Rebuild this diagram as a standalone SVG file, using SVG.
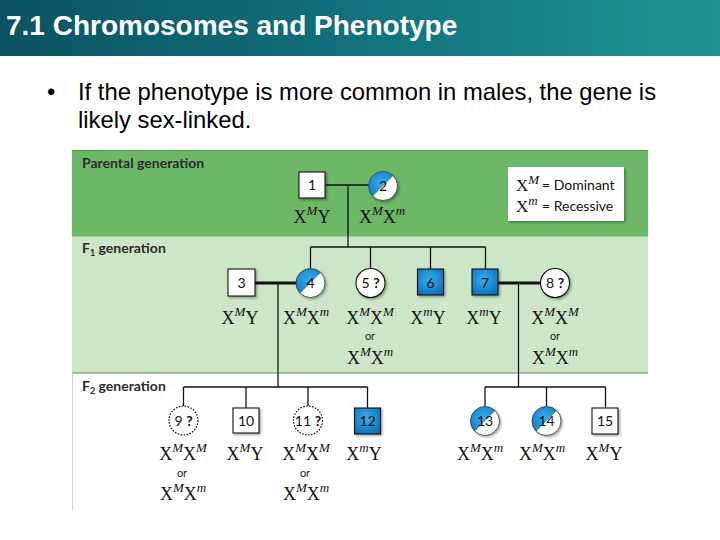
<svg xmlns="http://www.w3.org/2000/svg" xmlns:xlink="http://www.w3.org/1999/xlink" width="720" height="540" viewBox="0 0 720 540">
<style>
.title{font-family:"Liberation Sans",Arial,sans-serif;font-weight:bold;font-size:28px;fill:#ffffff}
.bullet{font-family:"Liberation Sans",Arial,sans-serif;font-size:23.8px;fill:#000000}
.sec{font-family:Lato,"Liberation Sans",sans-serif;font-weight:bold;font-size:14px;fill:#2b2b2b}
.num{font-family:Lato,"Liberation Sans",sans-serif;font-size:14px;fill:#111111;text-anchor:middle}
.geno{font-family:"Liberation Serif","Times New Roman",serif;font-size:18px;fill:#111111;text-anchor:middle}
.sup{font-style:italic;font-size:13px}
.or{font-family:Lato,"Liberation Sans",sans-serif;font-size:11px;fill:#222222;text-anchor:middle}
.leg{font-family:Lato,"Liberation Sans",sans-serif;font-size:14px;fill:#111111}
.legx{font-family:"Liberation Serif","Times New Roman",serif;font-size:17px;fill:#111111}
.thin{stroke:#111111;stroke-width:1.3;fill:none}
.thick{stroke:#111111;stroke-width:2.8;fill:none}
.sq{fill:#ffffff;stroke:#111111;stroke-width:1.1}
.sqa{fill:url(#blue);stroke:#111111;stroke-width:1.1}
.ci{fill:#ffffff;stroke:#111111;stroke-width:1.1}
.cid{fill:#ffffff;stroke:#111111;stroke-width:1.2;stroke-dasharray:1.6 1.4}
</style>
<defs>
<linearGradient id="tbar" x1="0" y1="0" x2="1" y2="0">
<stop offset="0" stop-color="#0b5262"/>
<stop offset="0.5" stop-color="#12717c"/>
<stop offset="1" stop-color="#1e9592"/>
</linearGradient>
<radialGradient id="blue" cx="0.45" cy="0.4" r="0.7">
<stop offset="0" stop-color="#38aef0"/>
<stop offset="1" stop-color="#0a6cb4"/>
</radialGradient>
<filter id="sh" x="-30%" y="-30%" width="160%" height="160%">
<feDropShadow dx="1.5" dy="1.5" stdDeviation="1.2" flood-color="#000000" flood-opacity="0.35"/>
</filter>
<clipPath id="cc"><circle cx="0" cy="0" r="14.5"/></clipPath>
<g id="half">
<circle cx="0" cy="0" r="14.5" fill="#ffffff"/>
<polygon points="-15,-15 15,-15 -15,15" fill="url(#blue)" clip-path="url(#cc)"/>
<circle cx="0" cy="0" r="14.5" fill="none" stroke="#333333" stroke-width="0.8"/>
</g>
</defs>

<!-- title bar -->
<rect x="0" y="0" width="720" height="56" fill="url(#tbar)"/>
<text class="title" x="6" y="35">7.1 Chromosomes and Phenotype</text>
<text class="bullet" x="47" y="100">•</text>
<text class="bullet" x="78" y="100">If the phenotype is more common in males, the gene is</text>
<text class="bullet" x="78" y="128">likely sex-linked.</text>

<!-- panel bands -->
<rect x="72" y="150" width="576" height="86" fill="#6cb866"/>
<line x1="72" y1="150.5" x2="648" y2="150.5" stroke="#4f9a4c" stroke-width="1"/>
<rect x="72" y="236" width="576" height="137" fill="#cde6c7"/>
<line x1="72" y1="236.5" x2="648" y2="236.5" stroke="#9fd19a" stroke-width="1"/>
<line x1="72" y1="373" x2="648" y2="373" stroke="#5a8a5a" stroke-width="1"/>
<line x1="72.5" y1="373" x2="72.5" y2="510" stroke="#c8d8e0" stroke-width="1"/>

<text class="sec" x="82" y="168">Parental generation</text>
<text class="sec" x="82" y="253">F<tspan font-size="9" dy="3">1</tspan><tspan dy="-3"> generation</tspan></text>
<text class="sec" x="82" y="391">F<tspan font-size="9" dy="3">2</tspan><tspan dy="-3"> generation</tspan></text>

<!-- legend -->
<g id="legend">
<rect x="508" y="167" width="116" height="54" fill="#ffffff" filter="url(#sh)"/>
<text class="legx" x="516" y="191">X<tspan class="sup" font-size="12" dy="-7">M</tspan></text>
<text class="leg" x="542" y="190">= Dominant</text>
<text class="legx" x="516" y="212">X<tspan class="sup" font-size="12" dy="-7">m</tspan></text>
<text class="leg" x="542" y="211">= Recessive</text>
</g>

<!-- connectors -->
<g id="connectors">
<line class="thin" x1="325" y1="185" x2="369" y2="185"/>
<line class="thin" x1="348" y1="185" x2="348" y2="247"/>
<line class="thin" x1="310.5" y1="247" x2="485.5" y2="247"/>
<line class="thin" x1="310.5" y1="247" x2="310.5" y2="268"/>
<line class="thin" x1="370.5" y1="247" x2="370.5" y2="268"/>
<line class="thin" x1="430.5" y1="247" x2="430.5" y2="269"/>
<line class="thin" x1="485.5" y1="247" x2="485.5" y2="269"/>
<line class="thick" x1="255" y1="283" x2="296" y2="283"/>
<line class="thin" x1="278" y1="283" x2="278" y2="387"/>
<line class="thin" x1="183.5" y1="387" x2="367.5" y2="387"/>
<line class="thin" x1="183.5" y1="387" x2="183.5" y2="406"/>
<line class="thin" x1="246" y1="387" x2="246" y2="408"/>
<line class="thin" x1="308" y1="387" x2="308" y2="406"/>
<line class="thin" x1="367.5" y1="387" x2="367.5" y2="408"/>
<line class="thick" x1="498" y1="283" x2="540" y2="283"/>
<line class="thin" x1="518.5" y1="283" x2="518.5" y2="387"/>
<line class="thin" x1="485" y1="387" x2="605.5" y2="387"/>
<line class="thin" x1="485" y1="387" x2="485" y2="406"/>
<line class="thin" x1="546.5" y1="387" x2="546.5" y2="406"/>
<line class="thin" x1="605.5" y1="387" x2="605.5" y2="408"/>
</g>

<!-- parental -->
<g id="n1">
<rect class="sq" x="299" y="172" width="26" height="26" filter="url(#sh)"/>
<text class="num" x="312" y="190">1</text>
<text class="geno" x="312" y="223">X<tspan class="sup" dy="-8">M</tspan><tspan dy="8">Y</tspan></text>
</g>
<g id="n2">
<use xlink:href="#half" href="#half" transform="translate(383,186)" filter="url(#sh)"/>
<text class="num" x="383" y="191">2</text>
<text class="geno" x="382" y="223">X<tspan class="sup" dy="-8">M</tspan><tspan dy="8">X</tspan><tspan class="sup" dy="-8">m</tspan></text>
</g>

<!-- F1 -->
<g id="n3">
<rect class="sq" x="228" y="269" width="27" height="27" filter="url(#sh)"/>
<text class="num" x="241.5" y="287.5">3</text>
<text class="geno" x="240" y="324">X<tspan class="sup" dy="-8">M</tspan><tspan dy="8">Y</tspan></text>
</g>
<g id="n4">
<use xlink:href="#half" href="#half" transform="translate(310.5,283)" filter="url(#sh)"/>
<text class="num" x="310.5" y="288">4</text>
<text class="geno" x="306" y="324">X<tspan class="sup" dy="-8">M</tspan><tspan dy="8">X</tspan><tspan class="sup" dy="-8">m</tspan></text>
</g>
<g id="n5">
<circle class="ci" cx="370.5" cy="283" r="14.5" filter="url(#sh)"/>
<text class="num" x="370.5" y="288">5 <tspan font-weight="bold">?</tspan></text>
<text class="geno" x="370" y="324">X<tspan class="sup" dy="-8">M</tspan><tspan dy="8">X</tspan><tspan class="sup" dy="-8">M</tspan></text>
<text class="or" x="370" y="340">or</text>
<text class="geno" x="370" y="364">X<tspan class="sup" dy="-8">M</tspan><tspan dy="8">X</tspan><tspan class="sup" dy="-8">m</tspan></text>
</g>
<g id="n6">
<rect class="sqa" x="417.5" y="269" width="26" height="26" filter="url(#sh)"/>
<text class="num" x="430.5" y="287.5">6</text>
<text class="geno" x="428" y="324">X<tspan class="sup" dy="-8">m</tspan><tspan dy="8">Y</tspan></text>
</g>
<g id="n7">
<rect class="sqa" x="472" y="269" width="26" height="26" filter="url(#sh)"/>
<text class="num" x="485" y="287.5">7</text>
<text class="geno" x="484" y="324">X<tspan class="sup" dy="-8">m</tspan><tspan dy="8">Y</tspan></text>
</g>
<g id="n8">
<circle class="ci" cx="555" cy="283" r="14.5" filter="url(#sh)"/>
<text class="num" x="555" y="288">8 <tspan font-weight="bold">?</tspan></text>
<text class="geno" x="555" y="324">X<tspan class="sup" dy="-8">M</tspan><tspan dy="8">X</tspan><tspan class="sup" dy="-8">M</tspan></text>
<text class="or" x="555" y="340">or</text>
<text class="geno" x="555" y="364">X<tspan class="sup" dy="-8">M</tspan><tspan dy="8">X</tspan><tspan class="sup" dy="-8">m</tspan></text>
</g>

<!-- F2 -->
<g id="n9">
<circle class="cid" cx="183.5" cy="420.5" r="14.5"/>
<text class="num" x="183.5" y="425.5">9 <tspan font-weight="bold">?</tspan></text>
<text class="geno" x="183" y="460">X<tspan class="sup" dy="-8">M</tspan><tspan dy="8">X</tspan><tspan class="sup" dy="-8">M</tspan></text>
<text class="or" x="182" y="477">or</text>
<text class="geno" x="183" y="500">X<tspan class="sup" dy="-8">M</tspan><tspan dy="8">X</tspan><tspan class="sup" dy="-8">m</tspan></text>
</g>
<g id="n10">
<rect class="sq" x="233" y="408" width="26" height="25" filter="url(#sh)"/>
<text class="num" x="246" y="425.5">10</text>
<text class="geno" x="245" y="460">X<tspan class="sup" dy="-8">M</tspan><tspan dy="8">Y</tspan></text>
</g>
<g id="n11">
<circle class="cid" cx="308" cy="420.5" r="14.5"/>
<text class="num" x="308" y="425.5">11 <tspan font-weight="bold">?</tspan></text>
<text class="geno" x="306" y="460">X<tspan class="sup" dy="-8">M</tspan><tspan dy="8">X</tspan><tspan class="sup" dy="-8">M</tspan></text>
<text class="or" x="305" y="477">or</text>
<text class="geno" x="306" y="500">X<tspan class="sup" dy="-8">M</tspan><tspan dy="8">X</tspan><tspan class="sup" dy="-8">m</tspan></text>
</g>
<g id="n12">
<rect class="sqa" x="354.5" y="408" width="26" height="26" filter="url(#sh)"/>
<text class="num" x="367.5" y="425.5">12</text>
<text class="geno" x="364" y="460">X<tspan class="sup" dy="-8">m</tspan><tspan dy="8">Y</tspan></text>
</g>
<g id="n13">
<use xlink:href="#half" href="#half" transform="translate(485,421)" filter="url(#sh)"/>
<text class="num" x="485" y="426">13</text>
<text class="geno" x="480" y="460">X<tspan class="sup" dy="-8">M</tspan><tspan dy="8">X</tspan><tspan class="sup" dy="-8">m</tspan></text>
</g>
<g id="n14">
<use xlink:href="#half" href="#half" transform="translate(546.5,421)" filter="url(#sh)"/>
<text class="num" x="546.5" y="426">14</text>
<text class="geno" x="542" y="460">X<tspan class="sup" dy="-8">M</tspan><tspan dy="8">X</tspan><tspan class="sup" dy="-8">m</tspan></text>
</g>
<g id="n15">
<rect class="sq" x="592" y="408" width="26" height="26" filter="url(#sh)"/>
<text class="num" x="605" y="426">15</text>
<text class="geno" x="604" y="460">X<tspan class="sup" dy="-8">M</tspan><tspan dy="8">Y</tspan></text>
</g>
</svg>
